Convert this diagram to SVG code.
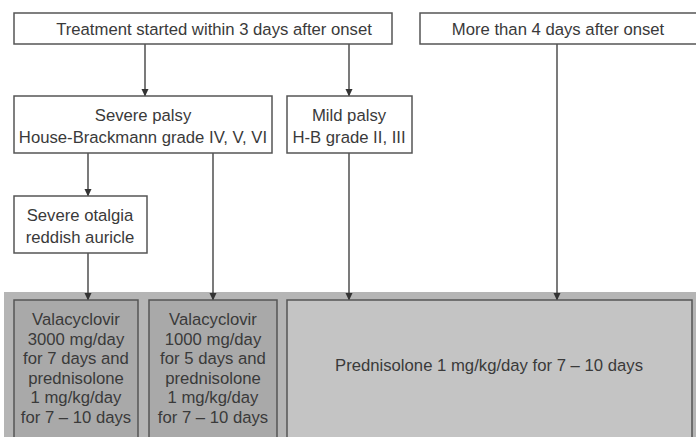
<svg xmlns="http://www.w3.org/2000/svg" width="696" height="437" viewBox="0 0 696 437">
<style>
.box{fill:#ffffff;stroke:#555;stroke-width:1.5}
.dark{fill:#a9a9a9;stroke:#555;stroke-width:1.5}
.light{fill:#c4c4c4;stroke:#555;stroke-width:1.5}
text{font-family:"Liberation Sans",Arial,sans-serif;font-size:16.7px;fill:#3a3a3a;text-anchor:middle}
.conn{stroke:#333;stroke-width:1.3;fill:none}
</style>
<defs>
<marker id="arr" markerWidth="8" markerHeight="8" refX="7" refY="4" orient="auto" markerUnits="userSpaceOnUse">
<path d="M0,0.5 L7.5,4 L0,7.5 Z" fill="#333"/>
</marker>
</defs>
<rect width="696" height="437" fill="#ffffff"/>
<rect x="4" y="292" width="692" height="145" fill="#b5b5b5"/>
<g id="connectors">
<line class="conn" x1="145" y1="44" x2="145" y2="96" marker-end="url(#arr)"/>
<line class="conn" x1="349" y1="44" x2="349" y2="96" marker-end="url(#arr)"/>
<line class="conn" x1="88" y1="153" x2="88" y2="196" marker-end="url(#arr)"/>
<line class="conn" x1="213" y1="153" x2="213" y2="300" marker-end="url(#arr)"/>
<line class="conn" x1="88" y1="253" x2="88" y2="300" marker-end="url(#arr)"/>
<line class="conn" x1="349" y1="153" x2="349" y2="300" marker-end="url(#arr)"/>
<line class="conn" x1="557" y1="44" x2="557" y2="300" marker-end="url(#arr)"/>
</g>
<g id="n_within3">
<rect class="box" x="14" y="13" width="378" height="31"/>
<text x="214" y="35">Treatment started within 3 days after onset</text>
</g>
<g id="n_more4">
<rect class="box" x="420" y="13" width="285" height="31"/>
<text x="558" y="35">More than 4 days after onset</text>
</g>
<g id="n_severe">
<rect class="box" x="14" y="96" width="258" height="57"/>
<text x="143" y="121">Severe palsy</text>
<text x="143" y="143">House-Brackmann grade IV, V, VI</text>
</g>
<g id="n_mild">
<rect class="box" x="287" y="96" width="125" height="57"/>
<text x="349" y="121">Mild palsy</text>
<text x="349" y="143">H-B grade II, III</text>
</g>
<g id="n_otalgia">
<rect class="box" x="14" y="196" width="133" height="57"/>
<text x="80" y="221">Severe otalgia</text>
<text x="80" y="243">reddish auricle</text>
</g>
<g id="n_valA">
<rect class="dark" x="14" y="300" width="124" height="140"/>
<text x="76" y="325">Valacyclovir</text>
<text x="76" y="345">3000 mg/day</text>
<text x="76" y="364">for 7 days and</text>
<text x="76" y="384">prednisolone</text>
<text x="76" y="403">1 mg/kg/day</text>
<text x="76" y="423">for 7 – 10 days</text>
</g>
<g id="n_valB">
<rect class="dark" x="149" y="300" width="128" height="140"/>
<text x="213" y="325">Valacyclovir</text>
<text x="213" y="345">1000 mg/day</text>
<text x="213" y="364">for 5 days and</text>
<text x="213" y="384">prednisolone</text>
<text x="213" y="403">1 mg/kg/day</text>
<text x="213" y="423">for 7 – 10 days</text>
</g>
<g id="n_pred">
<rect class="light" x="287" y="300" width="405" height="140"/>
<text x="489" y="371">Prednisolone 1 mg/kg/day for 7 – 10 days</text>
</g>
</svg>
